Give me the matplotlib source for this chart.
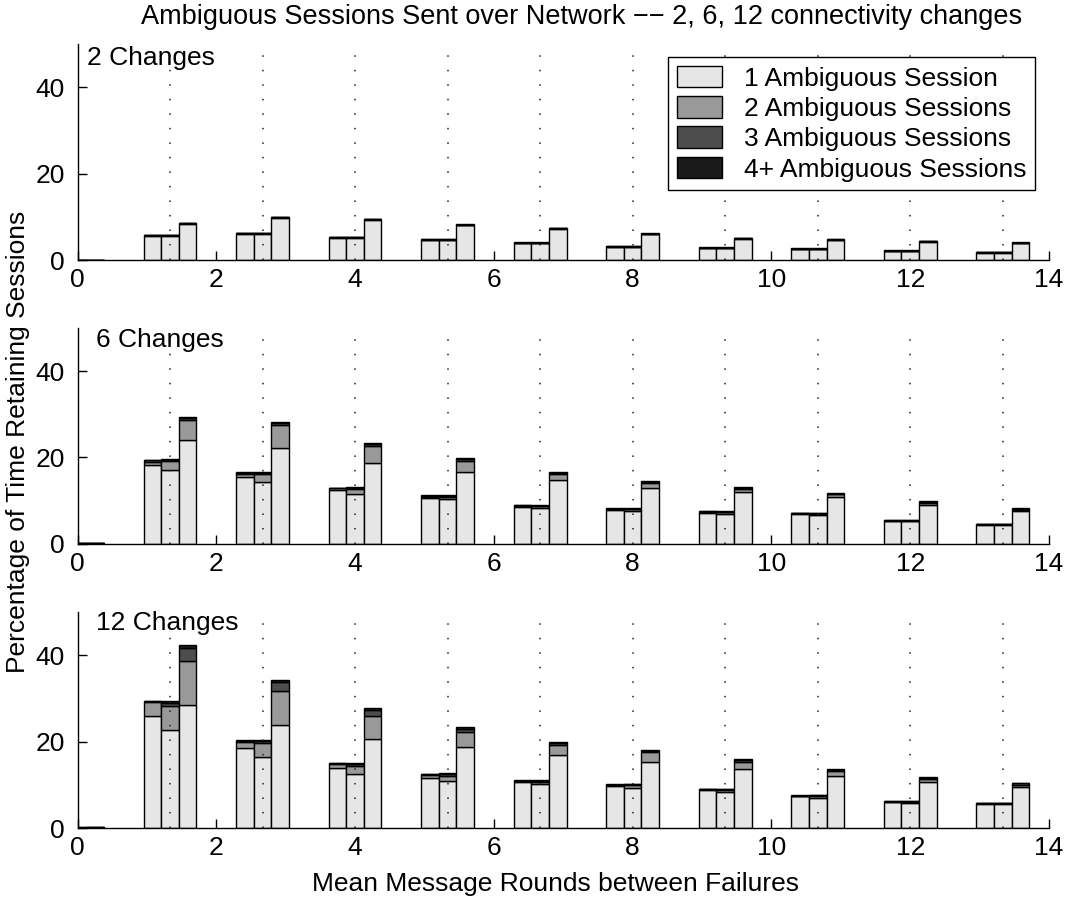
import numpy as np
import matplotlib
matplotlib.use("Agg")
import matplotlib.pyplot as plt

plt.rcParams['font.family'] = ['Liberation Sans', 'DejaVu Sans']

# ---------------- data ----------------
group_x = [0.0, 1.333, 2.667, 4.0, 5.333, 6.667, 8.0, 9.333, 10.667, 12.0, 13.333]
levels = ['1 Ambiguous Session', '2 Ambiguous Sessions', '3 Ambiguous Sessions', '4+ Ambiguous Sessions']
panel_titles = ['2 Changes', '6 Changes', '12 Changes']

# each list: 11 groups x 3 bars (flattened as triples)
chg2_l1 = [0, 0, 0, 5.6, 5.6, 8.4, 6.05, 6.05, 9.75, 5.15, 5.15, 9.3, 4.6, 4.6, 8.0,
           3.85, 3.85, 7.25, 2.95, 2.95, 5.95, 2.7, 2.7, 4.9, 2.45, 2.45, 4.6, 2.0, 2.0, 4.25,
           1.7, 1.7, 3.85]
chg2_l2 = [0, 0, 0, 0.1, 0.1, 0.1, 0.1, 0.1, 0.1, 0.1, 0.1, 0.1, 0.1, 0.1, 0.1,
           0.1, 0.1, 0.1, 0.1, 0.1, 0.1, 0.1, 0.1, 0.15, 0.1, 0.1, 0.12, 0.1, 0.1, 0.1,
           0.1, 0.1, 0.1]
chg2_l3 = [0, 0, 0, 0.08, 0.08, 0.08, 0.08, 0.08, 0.08, 0.08, 0.08, 0.08, 0.08, 0.08, 0.08,
           0.08, 0.08, 0.08, 0.08, 0.08, 0.08, 0.08, 0.08, 0.08, 0.08, 0.08, 0.08, 0.08, 0.08, 0.08,
           0.08, 0.08, 0.08]
chg2_l4 = [0, 0, 0, 0.08, 0.08, 0.08, 0.08, 0.08, 0.08, 0.08, 0.08, 0.08, 0.08, 0.08, 0.08,
           0.08, 0.08, 0.08, 0.08, 0.08, 0.08, 0.08, 0.08, 0.08, 0.08, 0.08, 0.08, 0.08, 0.08, 0.08,
           0.08, 0.08, 0.08]

chg6_l1 = [0, 0.08, 0.1, 18.2, 17.0, 24.1, 15.4, 14.4, 22.2, 12.5, 11.5, 18.8, 10.5, 10.35, 16.7,
           8.57, 8.34, 14.8, 7.8, 7.5, 12.8, 7.18, 6.87, 11.9, 6.8, 6.56, 10.8, 5.25, 5.25, 8.96,
           4.32, 4.32, 7.49]
chg6_l2 = [0, 0.03, 0.03, 0.8, 2.1, 4.5, 0.7, 1.7, 5.4, 0.3, 1.2, 3.8, 0.4, 0.5, 2.5,
           0.2, 0.4, 1.3, 0.25, 0.5, 1.3, 0.2, 0.4, 0.85, 0.2, 0.4, 0.6, 0.1, 0.1, 0.5,
           0.15, 0.15, 0.4]
chg6_l3 = [0, 0.03, 0.03, 0.3, 0.25, 0.45, 0.2, 0.2, 0.45, 0.1, 0.2, 0.5, 0.15, 0.2, 0.4,
           0.1, 0.1, 0.3, 0.1, 0.15, 0.3, 0.1, 0.15, 0.2, 0.1, 0.1, 0.2, 0.05, 0.05, 0.25,
           0.08, 0.08, 0.2]
chg6_l4 = [0, 0.03, 0.03, 0.2, 0.2, 0.25, 0.2, 0.2, 0.25, 0.1, 0.2, 0.3, 0.15, 0.15, 0.2,
           0.1, 0.1, 0.2, 0.1, 0.1, 0.2, 0.1, 0.1, 0.15, 0.1, 0.1, 0.15, 0.08, 0.08, 0.15,
           0.08, 0.08, 0.15]

chg12_l1 = [0, 0.08, 0.1, 25.9, 22.8, 28.4, 18.5, 16.4, 23.9, 13.9, 12.5, 20.6, 11.7, 11.0, 18.7,
            10.7, 10.1, 17.0, 9.8, 9.34, 15.4, 8.8, 8.26, 13.7, 7.34, 6.95, 12.0, 5.95, 5.8, 10.6,
            5.48, 5.48, 9.42]
chg12_l2 = [0, 0.03, 0.03, 3.3, 5.5, 10.4, 1.5, 3.2, 7.9, 0.9, 1.9, 5.4, 0.5, 1.1, 3.5,
            0.15, 0.6, 2.2, 0.15, 0.6, 2.2, 0.15, 0.5, 1.6, 0.1, 0.45, 1.2, 0.15, 0.3, 0.85,
            0.2, 0.2, 0.6]
chg12_l3 = [0, 0.03, 0.03, 0.15, 0.7, 2.8, 0.2, 0.6, 2.0, 0.2, 0.5, 1.3, 0.2, 0.4, 0.8,
            0.1, 0.3, 0.5, 0.1, 0.2, 0.25, 0.1, 0.2, 0.35, 0.07, 0.2, 0.3, 0.08, 0.1, 0.25,
            0.1, 0.1, 0.3]
chg12_l4 = [0, 0.03, 0.03, 0.15, 0.5, 0.8, 0.2, 0.3, 0.6, 0.1, 0.2, 0.4, 0.1, 0.2, 0.4,
            0.1, 0.2, 0.3, 0.1, 0.15, 0.25, 0.1, 0.1, 0.25, 0.07, 0.1, 0.2, 0.08, 0.1, 0.2,
            0.1, 0.1, 0.2]

panels = [
    [chg2_l1, chg2_l2, chg2_l3, chg2_l4],
    [chg6_l1, chg6_l2, chg6_l3, chg6_l4],
    [chg12_l1, chg12_l2, chg12_l3, chg12_l4],
]
level_colors = ['#e6e6e6', '#999999', '#4d4d4d', '#1a1a1a']
x_ticks = [0, 2, 4, 6, 8, 10, 12, 14]
y_ticks = [0, 20, 40]

# ---------------- layout ----------------
W, H = 1066, 901
fig = plt.figure(figsize=(W / 100, H / 100), dpi=100)
ax_left = 77.5 / W
ax_w = (1049 - 77.5) / W
ax_h = 215.8 / H
baselines = [260, 543.7, 828]
label_pos = [(0.010, 0.935), (0.019, 0.945), (0.019, 0.948)]

bw = 0.2533
offsets = [-bw, 0.0, bw]
FS = 19

for pi, (data, base) in enumerate(zip(panels, baselines)):
    ax = fig.add_axes([ax_left, 1 - base / H, ax_w, ax_h])
    gx = np.array(group_x)
    for bi, off in enumerate(offsets):
        bottom = np.zeros(len(gx))
        for li in range(4):
            vals = np.array(data[li]).reshape(-1, 3)[:, bi]
            ax.bar(gx + off, vals, width=bw, bottom=bottom, color=level_colors[li],
                   edgecolor='black', linewidth=1.0, label=levels[li] if bi == 0 else None,
                   zorder=2)
            bottom = bottom + vals
    for g in group_x[1:]:
        ax.axvline(g, color='#222222', linestyle=(0, (1, 8.5)), linewidth=1.1, zorder=3)
    ax.set_xlim(0, 14)
    ax.set_ylim(0, 50)
    ax.set_xticks(x_ticks)
    ax.set_yticks(y_ticks)
    ax.spines['top'].set_visible(False)
    ax.spines['right'].set_visible(False)
    ax.spines['left'].set_linewidth(1.0)
    ax.spines['bottom'].set_linewidth(1.0)
    ax.tick_params(direction='in', length=6.5, width=1.0, labelsize=FS)
    ax.tick_params(axis='x', pad=6)
    ax.tick_params(axis='y', pad=9)
    ax.text(label_pos[pi][0], label_pos[pi][1], panel_titles[pi], transform=ax.transAxes,
            ha='left', va='center', fontsize=FS)
    if pi == 0:
        leg = ax.legend(loc='upper right', bbox_to_anchor=(0.9856, 0.94), borderaxespad=0,
                        fontsize=FS, frameon=True, fancybox=False, edgecolor='black',
                        handlelength=1.7, handleheight=0.9, labelspacing=0.2,
                        handletextpad=0.85, borderpad=0.32, framealpha=1)
        leg.get_frame().set_linewidth(1.0)

fig.text(582 / W, 1 - 17 / H, 'Ambiguous Sessions Sent over Network \u2212\u2212 2, 6, 12 connectivity changes',
         ha='center', va='center', fontsize=19.5)
fig.text(556 / W, 1 - 884 / H, 'Mean Message Rounds between Failures', ha='center', va='center', fontsize=FS)
fig.text(18 / W, 1 - 442 / H, 'Percentage of Time Retaining Sessions', ha='center', va='center',
         rotation=90, fontsize=FS)

fig.savefig('out.png', dpi=100)
